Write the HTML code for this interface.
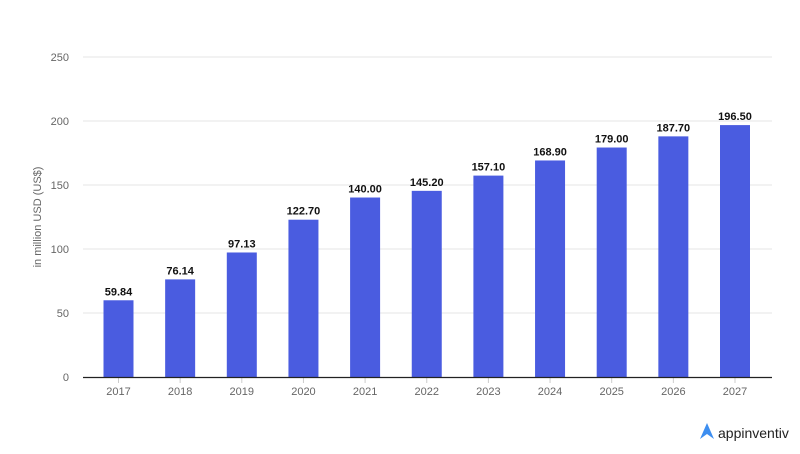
<!DOCTYPE html>
<html><head><meta charset="utf-8"><style>
body{margin:0;background:#fff;}
svg{display:block;font-family:"Liberation Sans",sans-serif;}
</style></head><body>
<svg width="800" height="454" viewBox="0 0 800 454">
<g stroke="#e6e6e6" stroke-width="1">
<line x1="83" x2="772" y1="57" y2="57"/>
<line x1="83" x2="772" y1="121" y2="121"/>
<line x1="83" x2="772" y1="185" y2="185"/>
<line x1="83" x2="772" y1="249" y2="249"/>
<line x1="83" x2="772" y1="313" y2="313"/>
</g>
<g fill="#666" font-size="11" text-anchor="end">
<text x="69" y="61">250</text>
<text x="69" y="125">200</text>
<text x="69" y="189">150</text>
<text x="69" y="253">100</text>
<text x="69" y="317">50</text>
<text x="69" y="381">0</text>
</g>
<text transform="translate(41,217) rotate(-90)" fill="#666" font-size="11" text-anchor="middle">in million USD (US$)</text>
<g fill="#4a5ce0">
<rect x="103.5" y="300.28" width="30" height="76.72"/>
<rect x="165.15" y="279.39" width="30" height="97.61"/>
<rect x="226.8" y="252.48" width="30" height="124.52"/>
<rect x="288.45" y="219.7" width="30" height="157.3"/>
<rect x="350.1" y="197.52" width="30" height="179.48"/>
<rect x="411.75" y="190.85" width="30" height="186.15"/>
<rect x="473.4" y="175.6" width="30" height="201.4"/>
<rect x="535.05" y="160.47" width="30" height="216.53"/>
<rect x="596.7" y="147.52" width="30" height="229.48"/>
<rect x="658.35" y="136.37" width="30" height="240.63"/>
<rect x="720" y="125.09" width="30" height="251.91"/>
</g>
<g font-size="11" font-weight="bold" fill="#111" text-anchor="middle">
<text x="118.5" y="295.3">59.84</text>
<text x="180.15" y="274.4">76.14</text>
<text x="241.8" y="247.5">97.13</text>
<text x="303.45" y="214.7">122.70</text>
<text x="365.1" y="192.5">140.00</text>
<text x="426.75" y="185.9">145.20</text>
<text x="488.4" y="170.6">157.10</text>
<text x="550.05" y="155.5">168.90</text>
<text x="611.7" y="142.5">179.00</text>
<text x="673.35" y="131.4">187.70</text>
<text x="735" y="120.1">196.50</text>
</g>
<g stroke="#ccc">
<line x1="118.5" x2="118.5" y1="378" y2="383"/><line x1="180.15" x2="180.15" y1="378" y2="383"/>
<line x1="241.8" x2="241.8" y1="378" y2="383"/><line x1="303.45" x2="303.45" y1="378" y2="383"/>
<line x1="365.1" x2="365.1" y1="378" y2="383"/><line x1="426.75" x2="426.75" y1="378" y2="383"/>
<line x1="488.4" x2="488.4" y1="378" y2="383"/><line x1="550.05" x2="550.05" y1="378" y2="383"/>
<line x1="611.7" x2="611.7" y1="378" y2="383"/><line x1="673.35" x2="673.35" y1="378" y2="383"/>
<line x1="735" x2="735" y1="378" y2="383"/>
</g>
<g font-size="11" fill="#666" text-anchor="middle">
<text x="118.5" y="395">2017</text><text x="180.15" y="395">2018</text>
<text x="241.8" y="395">2019</text><text x="303.45" y="395">2020</text>
<text x="365.1" y="395">2021</text><text x="426.75" y="395">2022</text>
<text x="488.4" y="395">2023</text><text x="550.05" y="395">2024</text>
<text x="611.7" y="395">2025</text><text x="673.35" y="395">2026</text>
<text x="735" y="395">2027</text>
</g>
<line x1="83" x2="772" y1="377.5" y2="377.5" stroke="#222" stroke-width="1.2"/>
<path d="M700 439 L707 423 L714 439 L707 434 Z" fill="#3d8ef0"/>
<text x="718" y="438" font-size="14" fill="#222">appinventiv</text>
</svg>
</body></html>
